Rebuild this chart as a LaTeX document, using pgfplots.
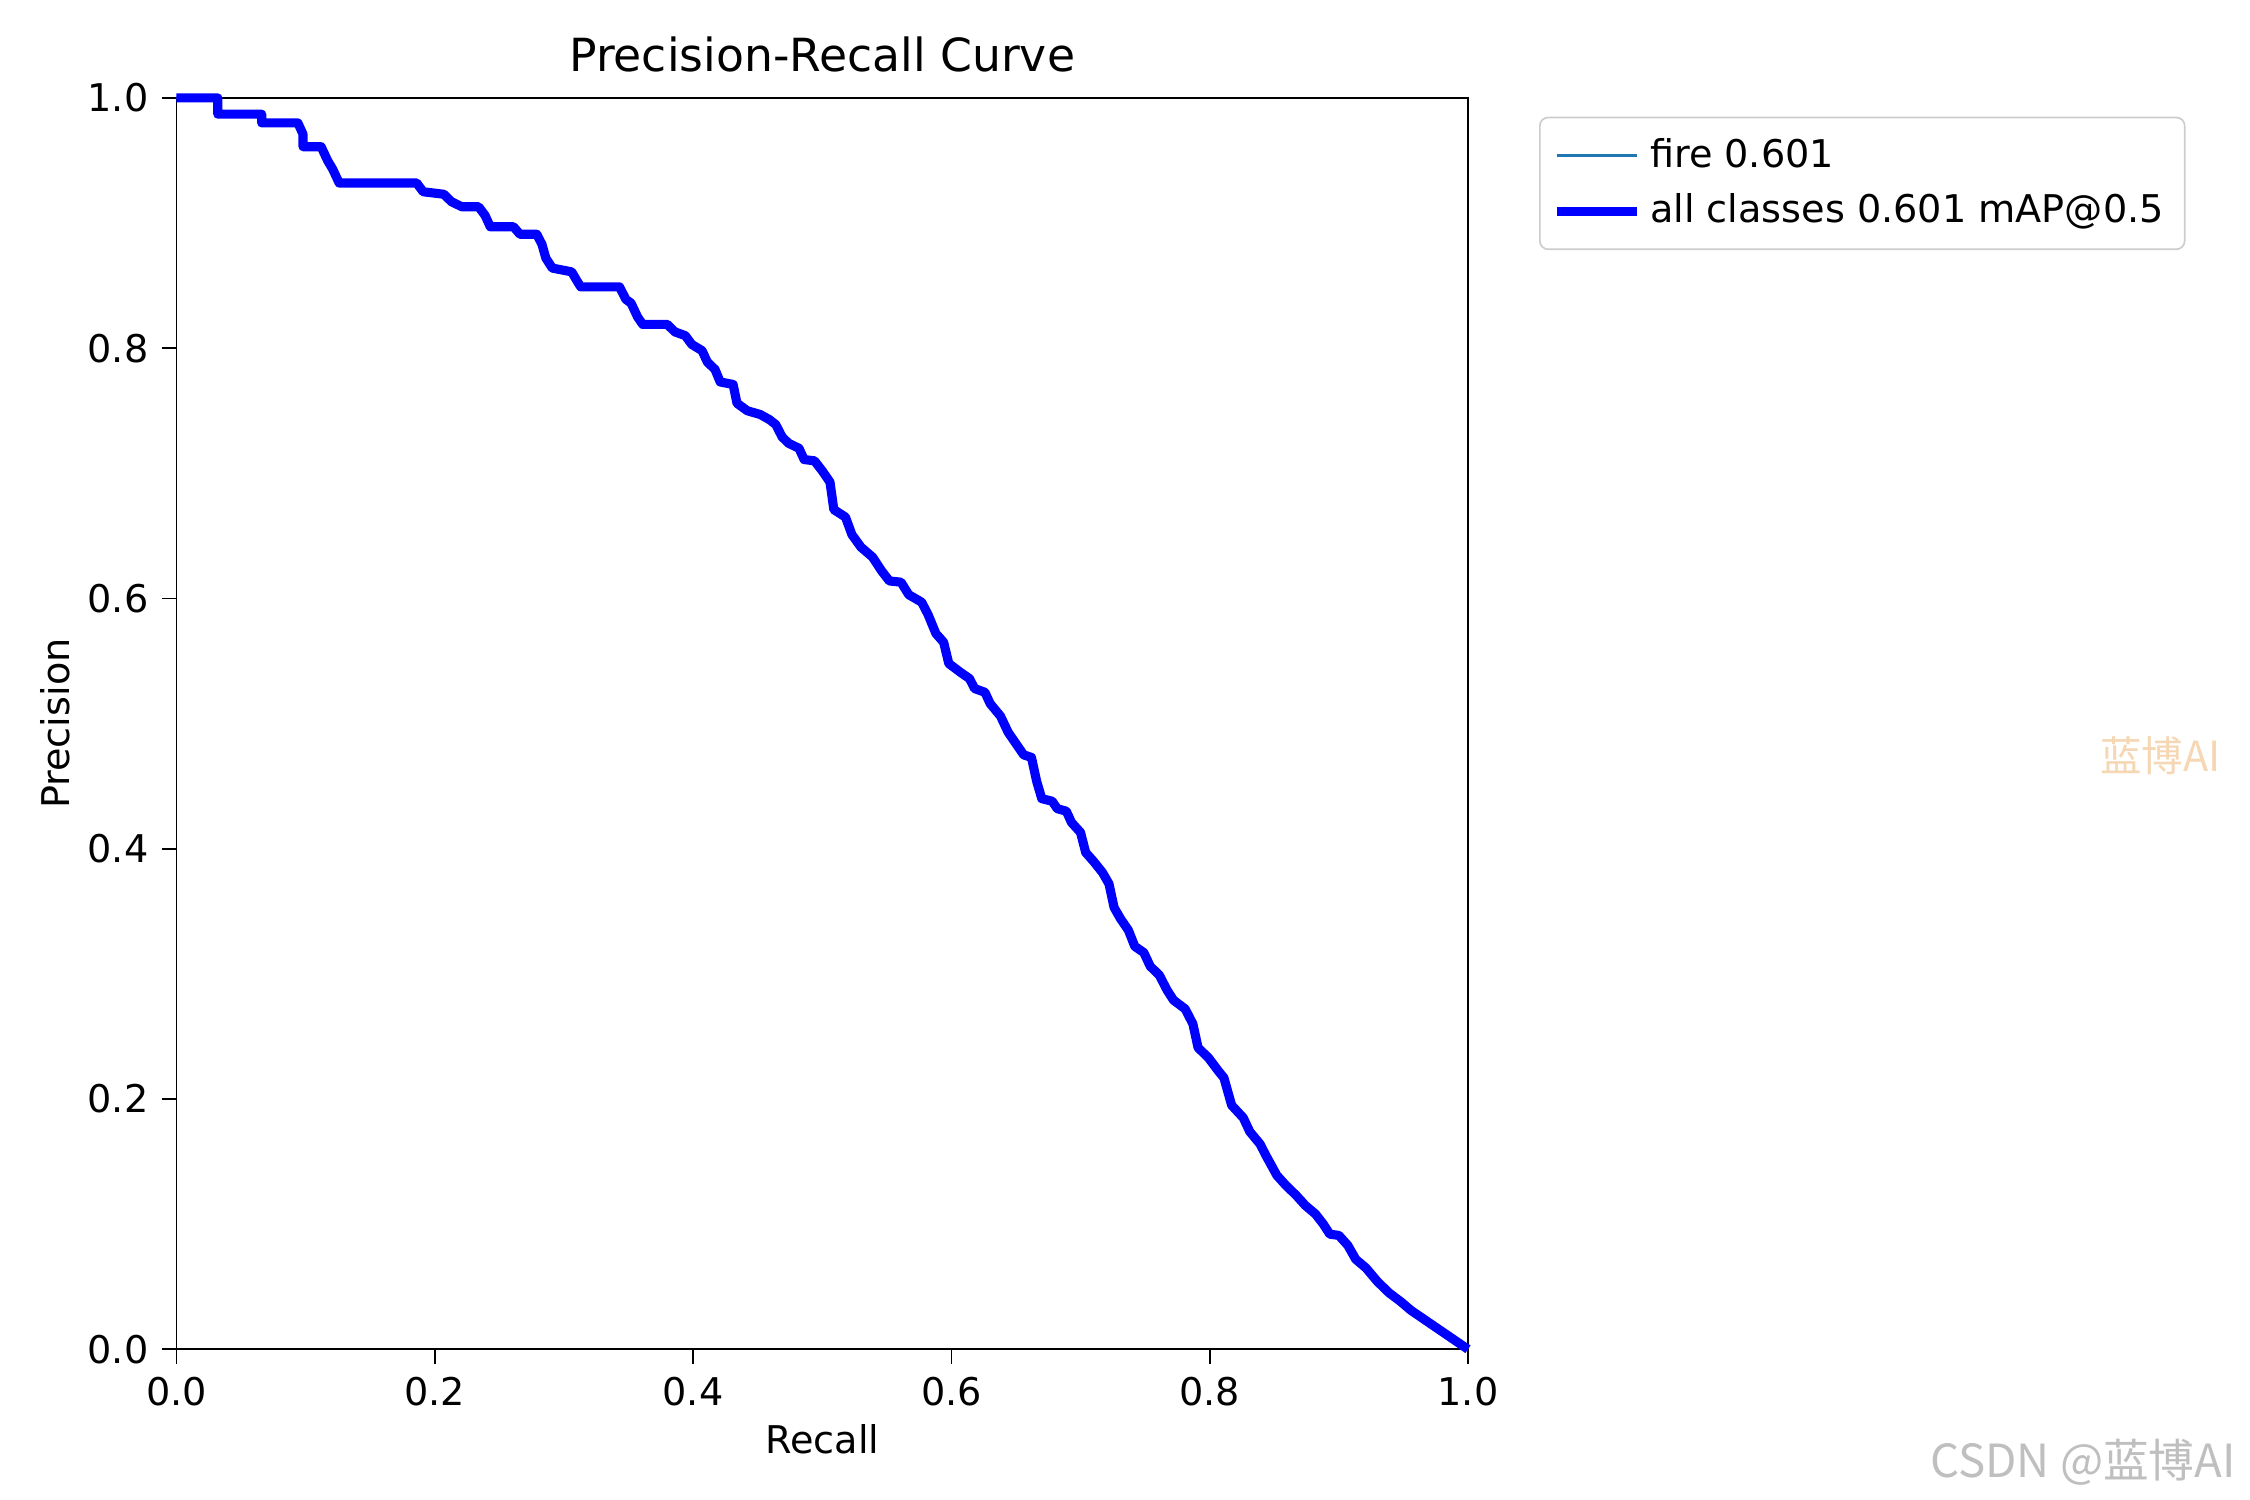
\documentclass[border=0pt]{standalone}
\usepackage{pgfplots}
\pgfplotsset{compat=1.18}
\usepackage{fontspec}
\setmainfont{DejaVu Sans}
\newfontfamily\cjk{Noto Sans CJK SC}
\begin{document}
\begin{tikzpicture}
\fontsize{9.2}{11}\selectfont
\useasboundingbox (-1.494,-1.276) rectangle (17.556,11.424);
\begin{axis}[at={(0,0)},anchor=south west,scale only axis,width=10.935cm,height=10.595cm,
xmin=0,xmax=1,ymin=0,ymax=1,
xtick={0,0.2,0.4,0.6,0.8,1},ytick={0,0.2,0.4,0.6,0.8,1},
xticklabel style={/pgf/number format/.cd,fixed,fixed zerofill,precision=1},
yticklabel style={/pgf/number format/.cd,fixed,fixed zerofill,precision=1},
/pgf/number format/assume math mode=true,
tick label style={font=\fontsize{9.2}{11}\selectfont},
label style={font=\fontsize{9.2}{11}\selectfont},
tick align=outside, tick style={black,thin}, major tick length=3.5pt,
xtick pos=left, ytick pos=left,
xlabel={Recall}, ylabel={Precision},
ylabel style={yshift=-2pt},
xlabel style={yshift=2pt},
title={Precision-Recall Curve},
title style={font=\fontsize{11}{13}\selectfont,yshift=-3pt},
legend style={at={(rel axis cs:1.055,0.985)},anchor=north west,draw=black!20,rounded corners=2pt,font=\fontsize{9.2}{11}\selectfont,row sep=1pt,inner sep=3pt},
legend image code/.code={\draw[#1] (0cm,0cm) -- (0.68cm,0cm);},
legend cell align=left,
clip=false]
\pgfplotstableread{
x y
0 1.0
0.032 1.0
0.032 0.987
0.066 0.987
0.066 0.980
0.094 0.980
0.098 0.971
0.098 0.961
0.112 0.961
0.117 0.950
0.121 0.943
0.126 0.932
0.186 0.932
0.191 0.925
0.207 0.923
0.213 0.917
0.221 0.913
0.234 0.913
0.239 0.906
0.243 0.897
0.261 0.897
0.266 0.891
0.279 0.891
0.283 0.883
0.286 0.872
0.291 0.864
0.306 0.861
0.310 0.854
0.313 0.849
0.343 0.849
0.348 0.839
0.352 0.836
0.357 0.825
0.361 0.819
0.380 0.819
0.386 0.813
0.394 0.810
0.399 0.803
0.407 0.798
0.411 0.789
0.417 0.783
0.421 0.773
0.431 0.771
0.434 0.756
0.442 0.750
0.452 0.747
0.459 0.743
0.464 0.739
0.469 0.729
0.474 0.724
0.482 0.720
0.486 0.711
0.494 0.710
0.500 0.702
0.506 0.693
0.509 0.671
0.518 0.665
0.523 0.651
0.530 0.641
0.539 0.633
0.546 0.622
0.552 0.614
0.561 0.613
0.567 0.603
0.577 0.597
0.582 0.587
0.588 0.572
0.594 0.565
0.598 0.548
0.607 0.541
0.614 0.536
0.618 0.528
0.626 0.525
0.630 0.516
0.638 0.506
0.644 0.493
0.650 0.484
0.656 0.475
0.662 0.473
0.666 0.454
0.670 0.440
0.678 0.438
0.682 0.432
0.689 0.430
0.693 0.421
0.700 0.413
0.704 0.397
0.710 0.390
0.717 0.381
0.722 0.372
0.726 0.353
0.731 0.344
0.737 0.335
0.742 0.322
0.749 0.317
0.754 0.306
0.761 0.299
0.767 0.287
0.772 0.279
0.781 0.272
0.787 0.260
0.791 0.241
0.799 0.233
0.807 0.222
0.811 0.217
0.817 0.195
0.826 0.185
0.831 0.174
0.839 0.164
0.844 0.154
0.852 0.139
0.859 0.131
0.867 0.123
0.874 0.115
0.882 0.108
0.888 0.100
0.893 0.092
0.900 0.091
0.907 0.083
0.913 0.072
0.921 0.065
0.930 0.054
0.939 0.045
0.948 0.038
0.956 0.031
1.0 0.0
}\pr
\addplot[color={rgb,255:red,31;green,119;blue,180},line width=0.75pt] table[x=x,y=y]{\pr};
\addlegendentry{fire 0.601}
\addplot[color=blue,line width=2.2pt,line join=round] table[x=x,y=y]{\pr};
\addlegendentry{all classes 0.601 mAP@0.5}
\node[text={rgb,255:red,245;green,215;blue,180},font=\cjk\fontsize{10}{12}\selectfont] at (rel axis cs:1.536,0.474) {蓝博AI};
\node[text=black!25,font=\cjk\fontsize{11}{13}\selectfont,anchor=east] at (rel axis cs:1.605,-0.090) {CSDN @蓝博AI};
\end{axis}
\end{tikzpicture}
\end{document}
